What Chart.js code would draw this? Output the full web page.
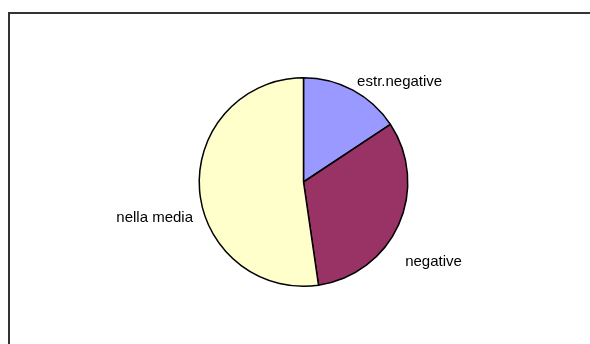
<!DOCTYPE html>
<html>
<head>
<meta charset="utf-8">
<script src="https://cdn.jsdelivr.net/npm/chart.js@4/dist/chart.umd.min.js"></script>
<style>
  body { margin: 0; background: #fff; }
  #wrap { position: relative; width: 590px; height: 344px; }
  #frame {
    position: absolute; left: 8px; top: 12px; right: 0; bottom: 0;
    border-left: 2px solid #333; border-top: 2px solid #333;
  }
  canvas { position: absolute; left: 0; top: 0; }
</style>
</head>
<body>
<div id="wrap">
  <div id="frame"></div>
  <canvas id="pieChart" width="590" height="344"></canvas>
</div>
<script>
// slice data (share in %)
const categories = ['estr.negative', 'negative', 'nella media'];
const shares = [15.7, 32.0, 52.3];
const sliceColors = ['#9999FF', '#993366', '#FFFFCC'];

// labels drawn outside the pie, placed from each arc's geometry
const outsideLabels = {
  id: 'outsideLabels',
  afterDatasetsDraw(chart, args, opts) {
    const ctx = chart.ctx;
    const meta = chart.getDatasetMeta(0);
    ctx.save();
    ctx.font = opts.font;
    ctx.fillStyle = '#000';
    ctx.textBaseline = 'middle';
    meta.data.forEach((arc, i) => {
      const mid = (arc.startAngle + arc.endAngle) / 2 + (opts.angleShift[i] || 0) * Math.PI / 180;
      const r = arc.outerRadius + opts.gap[i];
      const x = arc.x + Math.cos(mid) * r;
      const y = arc.y + Math.sin(mid) * r;
      ctx.textAlign = Math.cos(mid) >= 0 ? 'left' : 'right';
      ctx.fillText(chart.data.labels[i], x, y);
    });
    ctx.restore();
  }
};

const ctx = document.getElementById('pieChart').getContext('2d');
new Chart(ctx, {
  type: 'pie',
  data: {
    labels: categories,
    datasets: [{
      data: shares,
      backgroundColor: sliceColors,
      borderColor: '#000',
      borderWidth: 1.5
    }]
  },
  options: {
    responsive: false,
    animation: false,
    layout: { padding: { left: 100, right: 83, top: 77, bottom: 57 } },
    plugins: {
      legend: { display: false },
      tooltip: { enabled: false },
      outsideLabels: {
        font: '15px "Liberation Sans", Arial, sans-serif',
        angleShift: [0, 14, -14],
        gap: [9, 25, 12]
      }
    }
  },
  plugins: [outsideLabels]
});
</script>
</body>
</html>
